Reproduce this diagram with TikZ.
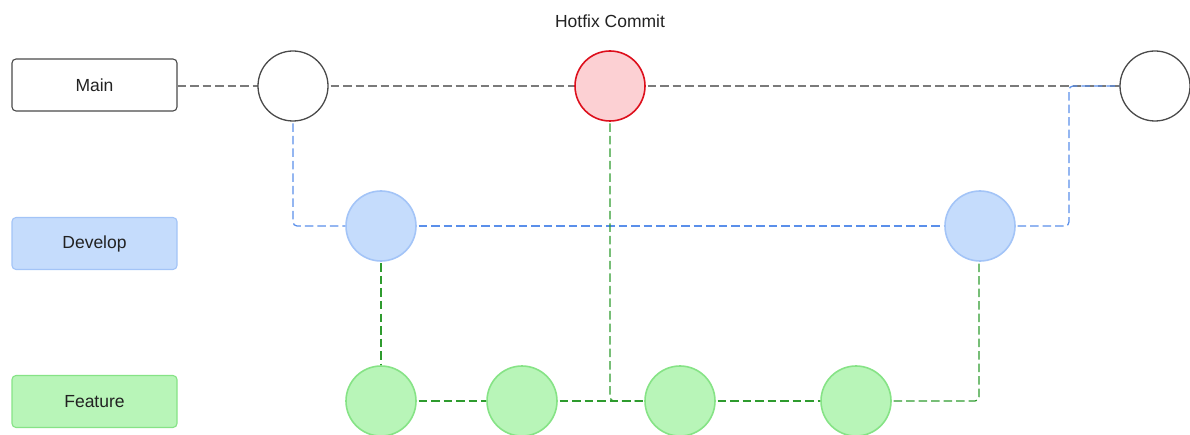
\documentclass[tikz,border=0pt]{standalone}
\usepackage{fontspec}
\setmainfont{Liberation Sans}
\usetikzlibrary{backgrounds}
\definecolor{txt}{HTML}{222222}
\definecolor{mainln}{HTML}{7A7A7A}
\definecolor{mainbd}{HTML}{4A4A4A}
\definecolor{devfill}{HTML}{C5DCFC}
\definecolor{devbd}{HTML}{A3C4F7}
\definecolor{devln}{HTML}{5A8FEA}
\definecolor{featfill}{HTML}{B8F5B8}
\definecolor{featbd}{HTML}{86E386}
\definecolor{featln}{HTML}{2E9B2E}
\definecolor{hotfill}{HTML}{FCD0D3}
\definecolor{hotbd}{HTML}{DD0F1C}
\tikzset{
  label box/.style={rectangle, rounded corners=4pt, minimum width=165pt, minimum height=52pt,
    inner sep=0pt, line width=1.1pt, text=txt, font=\fontsize{17.5}{20}\selectfont},
  commit/.style={circle, minimum size=70pt, inner sep=0pt, line width=1.3pt},
  maincommit/.style={commit, draw=mainbd, fill=white},
  hotcommit/.style={commit, draw=hotbd, fill=hotfill, line width=1.6pt},
  devcommit/.style={commit, draw=devbd, fill=devfill, line width=1.6pt},
  featcommit/.style={commit, draw=featbd, fill=featfill, line width=1.6pt},
  link/.style={dash pattern=on 8.5pt off 4pt, line width=1.25pt, rounded corners=4pt},
  mainlink/.style={link, draw=mainln},
  devlink/.style={link, draw=devln},
  featlink/.style={link, draw=featln},
}
\begin{document}
\begin{tikzpicture}[x=1pt, y=-1pt]
\useasboundingbox (0,0) rectangle (1190,435);

% branch labels
\node[label box, draw=mainbd, fill=white] (mainlbl) at (94.5,85) {Main};
\node[label box, draw=devbd, fill=devfill] (devlbl) at (94.5,243.5) {Develop};
\node[label box, draw=featbd, fill=featfill] (featlbl) at (94.5,401.5) {Feature};

\node[text=txt, font=\fontsize{17.5}{20}\selectfont] (title) at (610,21) {Hotfix Commit};

% commits
\node[maincommit] (c1) at (293,86) {};
\node[hotcommit] (hot) at (610,86) {};
\node[maincommit] (c3) at (1155,86) {};
\node[devcommit] (d1) at (381,226) {};
\node[devcommit] (d2) at (980,226) {};
\node[featcommit] (f1) at (381,401) {};
\node[featcommit] (f2) at (522,401) {};
\node[featcommit] (f3) at (680,401) {};
\node[featcommit] (f4) at (856,401) {};

% branch lines behind the commits
\begin{scope}[on background layer]
\draw[mainlink] (mainlbl.east |- c1.center) -- (c1.center);
\draw[mainlink] (c1.center) -- (hot.center);
\draw[mainlink] (hot.center) -- (c3.center);

\draw[devlink] (c1.center) |- (d1.center);
\draw[devlink] (d1.center) -- (d2.center);
\draw[devlink] (d2.center) -- ++(89,0) |- (c3.center);

\draw[featlink] (d1.center) -- (f1.center);
\draw[featlink] (f1.center) -- (f2.center);
\draw[featlink] (f2.center) -- (f3.center);
\draw[featlink] (hot.center) |- (f3.center);
\draw[featlink] (f3.center) -- (f4.center);
\draw[featlink] (f4.center) -| ([xshift=-1pt]d2.center);
\end{scope}
\end{tikzpicture}
\end{document}
